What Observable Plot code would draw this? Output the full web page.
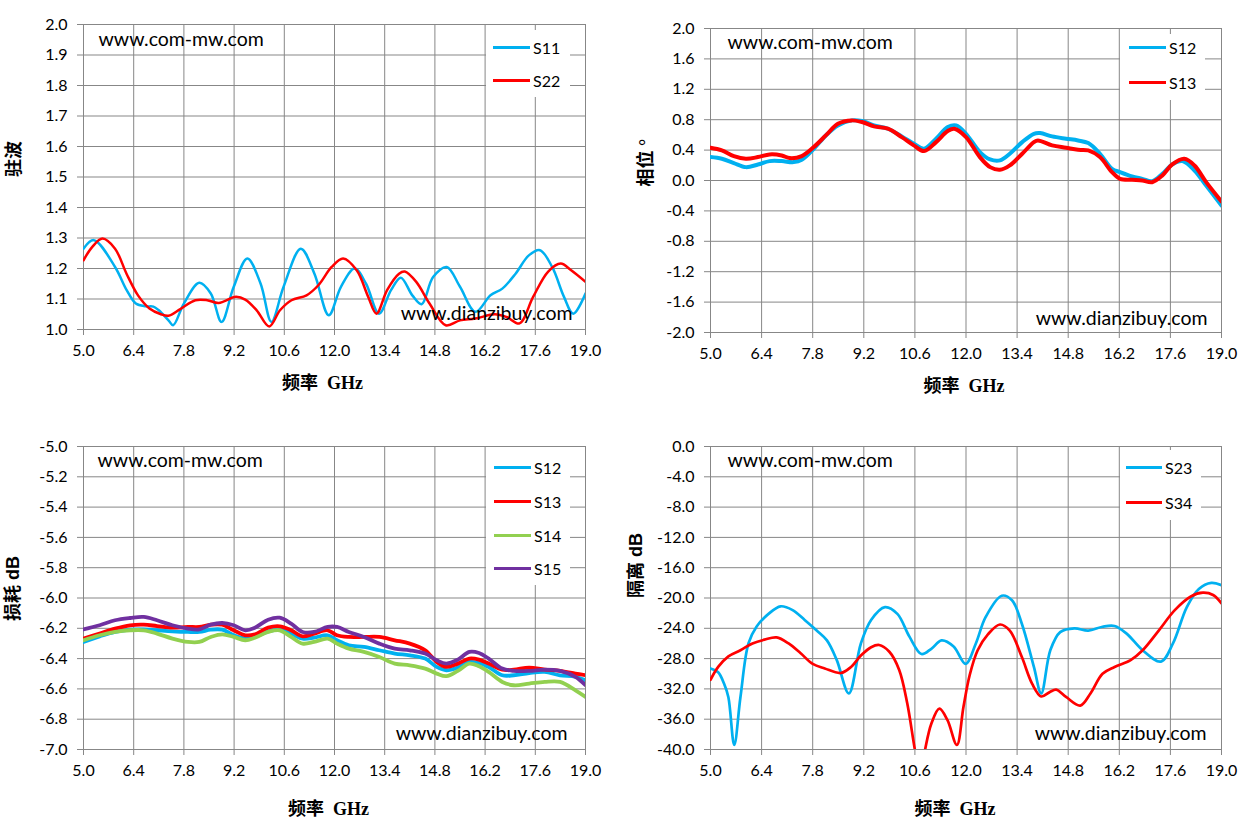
<!DOCTYPE html>
<html><head><meta charset="utf-8">
<script src="https://cdn.jsdelivr.net/npm/d3@7"></script>
<script src="https://cdn.jsdelivr.net/npm/@observablehq/plot@0.6"></script>
<style>
body{margin:0;background:#fff;}
#root{position:relative;width:1248px;height:830px;overflow:hidden;background:#fff;font-family:Lato,"Open Sans",sans-serif;}
.panel{position:absolute;}
.legend{position:absolute;background:#fff;}
.item{position:absolute;left:0;height:20px;margin-top:-10px;display:flex;align-items:center;font-size:16px;color:#000;white-space:nowrap;}
.sw{display:inline-block;height:3px;margin-right:3px;}
</style></head><body><div id="root"></div>
<script>
// ---------- tick labels ----------
const freqTicks = [5.0, 6.4, 7.8, 9.2, 10.6, 12.0, 13.4, 14.8, 16.2, 17.6, 19.0];
const vswrTicks = [1.0, 1.1, 1.2, 1.3, 1.4, 1.5, 1.6, 1.7, 1.8, 1.9, 2.0];
const phaseTicks = [-2.0, -1.6, -1.2, -0.8, -0.4, 0.0, 0.4, 0.8, 1.2, 1.6, 2.0];
const lossTicks = [-7.0, -6.8, -6.6, -6.4, -6.2, -6.0, -5.8, -5.6, -5.4, -5.2, -5.0];
const isoTicks = [-40, -36, -32, -28, -24, -20, -16, -12, -8, -4, 0];

// ---------- 驻波 (VSWR) ----------  [GHz, value]
const vswrS11 = [[5.0,1.265],[5.29,1.293],[5.88,1.205],[6.2,1.13],[6.46,1.085],[6.73,1.076],[6.95,1.075],[7.1,1.063],[7.37,1.03],[7.5,1.014],[7.8,1.085],[8.23,1.153],[8.55,1.118],[8.85,1.025],[9.19,1.14],[9.57,1.233],[9.94,1.15],[10.24,1.025],[10.58,1.14],[11.06,1.265],[11.44,1.183],[11.84,1.047],[12.18,1.14],[12.56,1.2],[12.88,1.15],[13.24,1.052],[13.58,1.13],[13.85,1.17],[14.17,1.112],[14.43,1.083],[14.75,1.172],[15.13,1.205],[15.5,1.14],[15.93,1.058],[16.35,1.112],[16.68,1.134],[17.05,1.183],[17.42,1.243],[17.73,1.26],[18.07,1.205],[18.4,1.107],[18.66,1.052],[19.0,1.118]];
const vswrS22 = [[5.0,1.227],[5.24,1.27],[5.53,1.298],[5.88,1.265],[6.2,1.183],[6.52,1.112],[6.84,1.069],[7.16,1.05],[7.37,1.045],[7.7,1.067],[8.12,1.096],[8.45,1.096],[8.77,1.087],[9.25,1.107],[9.51,1.098],[9.83,1.063],[10.18,1.01],[10.48,1.063],[10.8,1.096],[11.22,1.112],[11.55,1.145],[11.92,1.205],[12.24,1.233],[12.62,1.194],[12.94,1.107],[13.17,1.052],[13.47,1.13],[13.8,1.183],[13.96,1.19],[14.28,1.156],[14.65,1.085],[15.1,1.014],[15.5,1.03],[15.93,1.036],[16.47,1.05],[16.8,1.041],[17.16,1.02],[17.54,1.107],[17.96,1.19],[18.31,1.216],[18.6,1.194],[19.0,1.156]];

// ---------- 相位 (phase) ----------
const phaseS12 = [[5.0,0.308],[5.31,0.286],[5.64,0.229],[5.97,0.176],[6.3,0.211],[6.62,0.255],[6.95,0.255],[7.28,0.242],[7.5,0.273],[7.83,0.418],[8.16,0.593],[8.49,0.725],[8.87,0.791],[9.15,0.782],[9.48,0.725],[9.86,0.681],[10.24,0.58],[10.57,0.484],[10.85,0.418],[11.18,0.55],[11.5,0.703],[11.73,0.725],[12.0,0.615],[12.38,0.374],[12.66,0.277],[12.93,0.264],[13.2,0.352],[13.54,0.505],[13.86,0.615],[14.03,0.624],[14.36,0.58],[14.74,0.55],[15.07,0.527],[15.35,0.492],[15.67,0.352],[16.0,0.154],[16.22,0.11],[16.55,0.053],[16.83,0.022],[17.1,-0.009],[17.38,0.088],[17.65,0.211],[17.93,0.255],[18.26,0.132],[18.58,-0.066],[19.0,-0.33]];
const phaseS13 = [[5.0,0.431],[5.31,0.396],[5.64,0.321],[5.97,0.286],[6.3,0.308],[6.62,0.343],[6.95,0.33],[7.17,0.295],[7.5,0.321],[7.83,0.44],[8.16,0.593],[8.49,0.747],[8.87,0.791],[9.15,0.769],[9.48,0.712],[9.86,0.681],[10.24,0.571],[10.57,0.462],[10.85,0.387],[11.18,0.505],[11.5,0.651],[11.68,0.681],[12.0,0.571],[12.38,0.308],[12.66,0.176],[12.93,0.141],[13.2,0.198],[13.54,0.352],[13.86,0.505],[13.97,0.527],[14.36,0.462],[14.74,0.431],[15.07,0.404],[15.35,0.396],[15.67,0.308],[16.0,0.11],[16.22,0.022],[16.55,0.009],[16.83,0.0],[17.1,-0.022],[17.38,0.066],[17.65,0.211],[17.98,0.286],[18.26,0.198],[18.58,-0.022],[19.0,-0.277]];

// ---------- 损耗 (insertion loss) ----------
const lossFreq = [5.0,5.45,5.88,6.3,6.68,7.05,7.48,7.91,8.23,8.55,8.87,9.19,9.51,9.78,10.15,10.47,10.79,11.11,11.43,11.81,12.07,12.4,12.82,13.25,13.68,14.1,14.53,14.85,15.12,15.44,15.76,16.03,16.3,16.68,17.0,17.43,17.86,18.29,18.72,19.0];
const lossS12 = [-6.29,-6.253,-6.224,-6.209,-6.207,-6.213,-6.22,-6.224,-6.224,-6.209,-6.209,-6.246,-6.268,-6.257,-6.22,-6.209,-6.235,-6.268,-6.262,-6.246,-6.279,-6.312,-6.323,-6.345,-6.367,-6.378,-6.4,-6.455,-6.477,-6.459,-6.422,-6.429,-6.455,-6.51,-6.51,-6.495,-6.488,-6.51,-6.52,-6.543];
const lossS13 = [-6.268,-6.235,-6.202,-6.18,-6.176,-6.185,-6.196,-6.191,-6.191,-6.176,-6.176,-6.213,-6.246,-6.24,-6.196,-6.187,-6.213,-6.253,-6.235,-6.213,-6.246,-6.257,-6.257,-6.257,-6.279,-6.301,-6.345,-6.422,-6.455,-6.433,-6.4,-6.407,-6.433,-6.473,-6.473,-6.459,-6.473,-6.481,-6.499,-6.51];
const lossS14 = [-6.279,-6.246,-6.224,-6.213,-6.213,-6.235,-6.268,-6.29,-6.29,-6.257,-6.24,-6.257,-6.279,-6.262,-6.224,-6.213,-6.257,-6.301,-6.29,-6.268,-6.301,-6.334,-6.356,-6.389,-6.433,-6.444,-6.466,-6.499,-6.516,-6.481,-6.433,-6.451,-6.488,-6.554,-6.576,-6.565,-6.554,-6.554,-6.609,-6.653];
const lossS15 = [-6.207,-6.18,-6.147,-6.132,-6.125,-6.147,-6.18,-6.202,-6.207,-6.176,-6.165,-6.18,-6.213,-6.196,-6.143,-6.13,-6.169,-6.224,-6.224,-6.191,-6.191,-6.224,-6.257,-6.301,-6.334,-6.345,-6.367,-6.411,-6.433,-6.407,-6.356,-6.363,-6.4,-6.466,-6.481,-6.481,-6.473,-6.481,-6.52,-6.576];

// ---------- 隔离 (isolation) ----------
const isoS23 = [[5.0,-29.3],[5.21,-29.8],[5.37,-31.3],[5.49,-33.1],[5.65,-39.4],[5.82,-33.1],[6.04,-26.0],[6.26,-23.8],[6.59,-22.1],[6.92,-21.1],[7.25,-21.6],[7.58,-22.9],[7.91,-24.3],[8.19,-25.6],[8.46,-28.2],[8.79,-32.6],[9.12,-26.0],[9.4,-22.9],[9.78,-21.2],[10.12,-22.1],[10.45,-25.1],[10.78,-27.4],[11.05,-26.7],[11.33,-25.6],[11.66,-26.4],[11.99,-28.7],[12.27,-26.0],[12.54,-22.5],[12.98,-19.7],[13.26,-20.3],[13.53,-23.4],[13.86,-29.1],[14.06,-32.6],[14.31,-26.9],[14.58,-24.5],[14.97,-24.0],[15.35,-24.3],[15.74,-23.8],[16.07,-23.7],[16.4,-24.7],[16.84,-26.9],[17.34,-28.4],[17.67,-26.0],[18.05,-21.2],[18.38,-18.8],[18.72,-18.0],[19.0,-18.3]];
const isoS34 = [[5.0,-30.8],[5.21,-29.1],[5.49,-27.7],[5.82,-26.9],[6.15,-26.0],[6.48,-25.5],[6.81,-25.2],[7.14,-26.0],[7.47,-27.3],[7.8,-28.7],[8.13,-29.3],[8.57,-29.9],[8.85,-29.1],[9.12,-27.6],[9.4,-26.5],[9.62,-26.2],[9.9,-27.1],[10.17,-29.5],[10.39,-33.9],[10.61,-40.3],[10.75,-43.5],[10.88,-40.0],[11.05,-36.6],[11.27,-34.6],[11.49,-36.1],[11.75,-39.4],[11.93,-34.4],[12.1,-30.2],[12.32,-26.9],[12.6,-24.8],[12.93,-23.5],[13.2,-24.3],[13.53,-27.8],[13.81,-31.3],[14.06,-33.0],[14.3,-32.4],[14.47,-32.1],[14.75,-33.1],[15.13,-34.2],[15.41,-32.6],[15.74,-30.0],[16.07,-29.1],[16.51,-28.2],[16.84,-26.9],[17.28,-24.3],[17.72,-21.6],[18.16,-19.8],[18.49,-19.3],[18.77,-19.6],[19.0,-20.7]];

const BLUE = "#00B0F0", RED = "#FF0000", GREEN = "#92D050", PURPLE = "#7030A0";
const GRID = "#878787";
const zip = (xs, ys) => xs.map((x, i) => [x, ys[i]]);

const root = document.getElementById("root");

function panel(p) {
  const fmt = d => d.toFixed(1);
  const marks = [
    Plot.gridX(freqTicks, {stroke: GRID, strokeOpacity: 1, strokeWidth: 1}),
    Plot.gridY(p.yTicks, {stroke: GRID, strokeOpacity: 1, strokeWidth: 1}),
    Plot.axisX(freqTicks, {tickSize: 6, tickPadding: 9, tickFormat: fmt, stroke: GRID, fill: "#000", label: null, fontSize: 16}),
    Plot.axisY(p.yTicks, {tickSize: 6, tickPadding: 10, tickFormat: fmt, stroke: GRID, fill: "#000", label: null, fontSize: 16}),
    ...p.series.map(s => Plot.line(s.points, {x: d => d[0], y: d => d[1], stroke: s.color, strokeWidth: p.sw, curve: "catmull-rom", clip: true})),
    Plot.text([p.wm1], {text: d => d, frameAnchor: "top-left", textAnchor: "start", lineAnchor: "middle", dx: p.wm1dx, dy: p.wm1dy, fontSize: 19.5, fill: "#000"}),
    Plot.text([p.wm2], {text: d => d, frameAnchor: "bottom-right", textAnchor: "end", lineAnchor: "middle", dx: p.wm2dx, dy: p.wm2dy, fontSize: 19.5, fill: "#000"}),
    Plot.text([p.yTitle], {text: d => d, frameAnchor: "left", rotate: -90, dx: p.ytdx, dy: p.ytdy, fontSize: 18, fontWeight: "bold", fontFamily: p.ytFont, fill: "#000"}),
    Plot.text([p.xTitle], {text: d => d, frameAnchor: "bottom", dx: p.xtdx, dy: p.xtdy, fontSize: 18, fontWeight: "bold", fontFamily: "'Liberation Serif','Noto Sans CJK SC',serif", fill: "#000"})
  ];
  const svg = Plot.plot({
    width: 624, height: 415,
    marginLeft: p.m[0], marginRight: p.m[1], marginTop: p.m[2], marginBottom: p.m[3],
    x: {domain: [5, 19]},
    y: {domain: [p.yTicks[0], p.yTicks[p.yTicks.length - 1]]},
    style: {fontFamily: "Lato, 'Open Sans', sans-serif", fontSize: "16px", background: "transparent", color: "#000", overflow: "visible", whiteSpace: "pre"},
    marks
  });
  const wrap = document.createElement("div");
  wrap.className = "panel";
  wrap.style.left = p.left + "px";
  wrap.style.top = p.top + "px";
  wrap.appendChild(svg);
  root.appendChild(wrap);
  // legend
  const lg = document.createElement("div");
  lg.className = "legend";
  Object.assign(lg.style, {left: p.lg.x + "px", top: p.lg.y + "px", width: p.lg.w + "px", height: p.lg.h + "px"});
  p.series.forEach((s, i) => {
    const it = document.createElement("div");
    it.className = "item";
    it.style.top = p.lg.rows[i] + "px";
    it.style.left = p.lg.sx + "px";
    const sw = document.createElement("span");
    sw.className = "sw";
    sw.style.width = p.lg.sl + "px";
    sw.style.background = s.color;
    it.appendChild(sw);
    it.appendChild(document.createTextNode(s.name));
    lg.appendChild(it);
  });
  root.appendChild(lg);
}

const xTitle = "频率  GHz";
const serifCJK = "'Liberation Serif','Noto Sans CJK SC',serif";
const sansCJK = "'Liberation Sans','Noto Sans CJK SC',sans-serif";

panel({
  left: 0, top: 0, m: [83, 39, 24, 86], yTicks: vswrTicks, sw: 2.5,
  series: [{name: "S11", color: BLUE, points: vswrS11}, {name: "S22", color: RED, points: vswrS22}],
  wm1: "www.com-mw.com", wm1dx: 15, wm1dy: 15, wm2: "www.dianzibuy.com", wm2dx: -13, wm2dy: -16,
  yTitle: "驻波", ytFont: serifCJK, ytdx: -69, ytdy: 0, xTitle, xtdx: -12, xtdy: 59,
  lg: {x: 486, y: 30, w: 84, h: 67, sx: 7, sl: 37, rows: [17, 50]}
});
panel({
  left: 624, top: 0, m: [86, 27, 28, 83], yTicks: phaseTicks, sw: 4,
  series: [{name: "S12", color: BLUE, points: phaseS12}, {name: "S13", color: RED, points: phaseS13}],
  wm1: "www.com-mw.com", wm1dx: 17, wm1dy: 14, wm2: "www.dianzibuy.com", wm2dx: -14, wm2dy: -14,
  yTitle: "相位 °", ytFont: serifCJK, ytdx: -64, ytdy: 6, xTitle, xtdx: -2, xtdy: 59,
  lg: {x: 1120, y: 34, w: 85, h: 66, sx: 9, sl: 37, rows: [13, 48]}
});
panel({
  left: 0, top: 415, m: [83, 39, 31, 81], yTicks: lossTicks, sw: 3.8,
  series: [
    {name: "S12", color: BLUE, points: zip(lossFreq, lossS12)},
    {name: "S13", color: RED, points: zip(lossFreq, lossS13)},
    {name: "S14", color: GREEN, points: zip(lossFreq, lossS14)},
    {name: "S15", color: PURPLE, points: zip(lossFreq, lossS15)}
  ],
  wm1: "www.com-mw.com", wm1dx: 14, wm1dy: 14, wm2: "www.dianzibuy.com", wm2dx: -18, wm2dy: -16,
  yTitle: "损耗 dB", ytFont: sansCJK, ytdx: -70, ytdy: 23, xTitle, xtdx: -6, xtdy: 65,
  lg: {x: 486, y: 447, w: 84, h: 138, sx: 8, sl: 37, rows: [20, 54, 88, 121]}
});
panel({
  left: 624, top: 415, m: [86, 27, 31, 81], yTicks: isoTicks, sw: 2.7,
  series: [{name: "S23", color: BLUE, points: isoS23}, {name: "S34", color: RED, points: isoS34}],
  wm1: "www.com-mw.com", wm1dx: 17, wm1dy: 14, wm2: "www.dianzibuy.com", wm2dx: -15, wm2dy: -16,
  yTitle: "隔离 dB", ytFont: sansCJK, ytdx: -74, ytdy: 0, xTitle, xtdx: -11, xtdy: 65,
  lg: {x: 1120, y: 450, w: 81, h: 70, sx: 6, sl: 36, rows: [17, 52]}
});
</script></body></html>
